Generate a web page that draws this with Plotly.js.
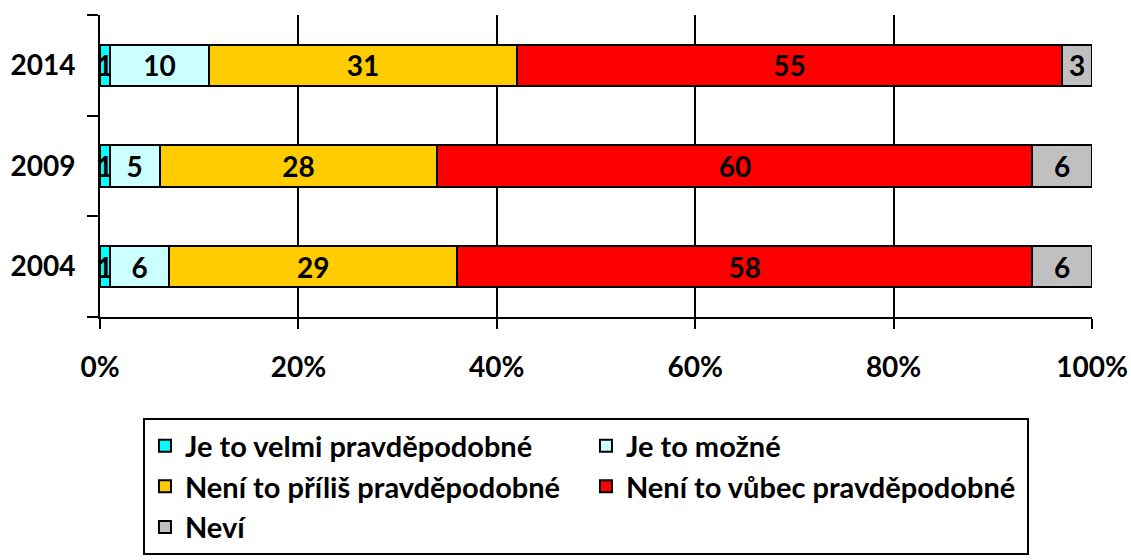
<!DOCTYPE html>
<html><head><meta charset="utf-8">
<script src="https://cdn.plot.ly/plotly-3.0.1.min.js"></script>
<style>html,body{margin:0;padding:0;background:#fff}#chart{width:1131px;height:560px}</style>
</head><body><div id="chart"></div>
<script>
const years = ["2004", "2009", "2014"];
const seriesNames = ["Je to velmi pravděpodobné", "Je to možné", "Není to příliš pravděpodobné", "Není to vůbec pravděpodobné", "Neví"];
const veryLikely = [1, 1, 1];
const possible = [6, 5, 10];
const notVery = [29, 28, 31];
const notAtAll = [58, 60, 55];
const dontKnow = [6, 6, 3];
const colors = ["#00FFFF", "#CCFFFF", "#FFCC00", "#FF0000", "#C0C0C0"];
const xTickVals = [0, 20, 40, 60, 80, 100];
const xTickText = ["0%", "20%", "40%", "60%", "80%", "100%"];

const FONT = "Lato, 'Open Sans', sans-serif";
const series = [veryLikely, possible, notVery, notAtAll, dontKnow];
const traces = series.map((vals, i) => ({
  type: "bar", orientation: "h", y: years, x: vals, name: seriesNames[i],
  marker: {color: colors[i], line: {color: "#000", width: 2}},
  text: vals.map(String), textposition: "inside", insidetextanchor: "middle",
  textangle: 0, constraintext: "none",
  textfont: {family: FONT, size: 28, color: "#000", weight: "bold"},
  hoverinfo: "skip"
}));

const layout = {
  width: 1131, height: 560,
  margin: {l: 100, r: 39, t: 15, b: 243},
  barmode: "stack", bargap: 0.59,
  paper_bgcolor: "#fff", plot_bgcolor: "#fff",
  showlegend: true,
  uniformtext: {mode: "show", minsize: 28},
  font: {family: FONT, color: "#000", size: 28, weight: "bold"},
  xaxis: {
    range: [0, 100], tickvals: xTickVals, ticktext: xTickText,
    showgrid: true, gridcolor: "#000", gridwidth: 2, zeroline: false,
    showline: true, linecolor: "#000", linewidth: 2,
    ticks: "outside", ticklen: 10, tickwidth: 2, tickcolor: "#000",
    ticklabelstandoff: 14,
    tickfont: {family: FONT, size: 28, weight: "bold"}, fixedrange: true
  },
  yaxis: {
    type: "category", categoryorder: "array", categoryarray: years,
    showline: true, linecolor: "#000", linewidth: 2, showgrid: false,
    ticks: "outside", tickson: "boundaries", ticklen: 11, tickwidth: 2, tickcolor: "#000",
    ticklabelstandoff: 17,
    tickfont: {family: FONT, size: 28, weight: "bold"}, fixedrange: true
  },
  legend: {
    orientation: "h", traceorder: "normal",
    xref: "container", yref: "container",
    x: 0.1264, xanchor: "left", y: 0.253, yanchor: "top",
    entrywidth: 396, entrywidthmode: "pixels",
    bordercolor: "#000", borderwidth: 2, bgcolor: "#fff",
    font: {family: FONT, size: 29, weight: "bold", color: "#000"},
    itemclick: false, itemdoubleclick: false
  }
};

Plotly.newPlot("chart", traces, layout, {displayModeBar: false, staticPlot: true});
</script></body></html>
